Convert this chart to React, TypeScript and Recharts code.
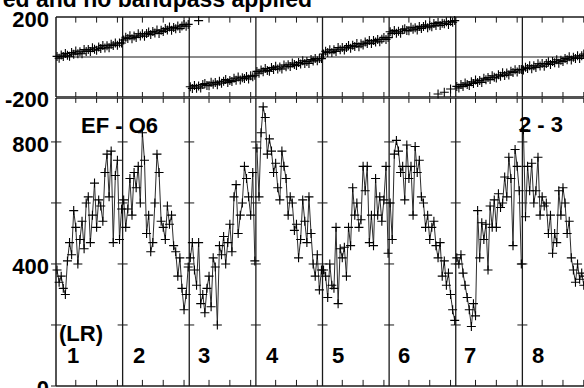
import React from 'react'
import { ComposedChart, Line, XAxis, YAxis, ReferenceLine } from 'recharts'

// 8 IFs, 32 channels each
const NCH = 32
const ifNames = ['1', '2', '3', '4', '5', '6', '7', '8']

// amplitude per channel, one array per IF
const amp1 = [380, 340, 360, 320, 300, 410, 470, 430, 575, 520, 400, 480, 540, 450, 600, 620, 470, 560, 665, 520, 610, 590, 540, 700, 760, 620, 770, 470, 690, 740, 480, 580]
const amp2 = [610, 520, 580, 680, 560, 700, 650, 720, 600, 830, 740, 500, 560, 440, 470, 600, 760, 700, 540, 520, 480, 590, 530, 560, 460, 440, 360, 420, 320, 250, 300, 390]
const amp3 = [420, 470, 380, 330, 470, 270, 300, 240, 320, 360, 260, 420, 390, 200, 460, 430, 490, 400, 470, 530, 440, 620, 660, 500, 560, 600, 720, 680, 620, 560, 700, 410]
const amp4 = [780, 620, 830, 915, 880, 760, 810, 770, 700, 730, 650, 610, 770, 720, 680, 560, 620, 600, 510, 530, 420, 480, 610, 540, 470, 620, 500, 400, 360, 430, 315, 380]
const amp5 = [380, 360, 290, 400, 330, 320, 520, 270, 450, 420, 455, 360, 520, 460, 650, 560, 600, 520, 545, 720, 640, 720, 470, 560, 460, 680, 560, 620, 540, 610, 720, 435]
const amp6 = [600, 480, 760, 805, 770, 700, 720, 610, 790, 680, 720, 560, 785, 700, 740, 620, 600, 520, 560, 480, 520, 540, 460, 420, 470, 360, 410, 330, 370, 300, 250, 215]
const amp7 = [420, 400, 430, 370, 330, 290, 250, 195, 270, 230, 575, 420, 535, 480, 530, 380, 590, 520, 610, 520, 630, 585, 600, 685, 620, 750, 680, 460, 775, 720, 640, 400]
const amp8 = [840, 555, 720, 640, 730, 600, 640, 750, 560, 620, 590, 600, 500, 560, 435, 500, 470, 640, 560, 650, 600, 500, 540, 420, 380, 340, 400, 350, 370, 330, 360, 340]

// phase per channel (degrees), one array per IF
const ph1 = [3, -6, 10, 2, 18, 9, 4, 22, 14, 30, 16, 26, 16, 37, 28, 38, 28, 46, 39, 34, 50, 42, 58, 45, 56, 46, 64, 57, 70, 59, 70, 70]
const ph2 = [85, 99, 93, 106, 91, 105, 98, 116, 105, 116, 104, 117, 125, 112, 127, 120, 135, 118, 134, 127, 142, 135, 150, 134, 148, 141, 155, 142, 155, 163, 154, 163]
const ph3 = [-149, -157, -142, -156, -145, -155, -138, -133, -142, -144, -126, -136, -128, -139, -121, -131, -121, -113, -128, -117, -122, -106, -116, -100, -115, -104, -107, -97, -110, -94, -99, -91]
const ph4 = [-72, -81, -65, -74, -58, -67, -71, -53, -62, -46, -60, -50, -60, -40, -49, -39, -48, -30, -38, -43, -27, -35, -19, -33, -22, -32, -13, -20, -8, -19, -8, -8]
const ph5 = [15, 29, 23, 36, 22, 36, 28, 47, 36, 48, 35, 48, 57, 44, 59, 52, 67, 51, 66, 60, 75, 68, 83, 67, 82, 75, 88, 76, 89, 98, 88, 97]
const ph6 = [126, 118, 133, 119, 129, 119, 136, 141, 132, 131, 149, 139, 146, 135, 153, 143, 153, 161, 146, 156, 151, 167, 157, 173, 158, 169, 166, 176, 163, 179, 174, 182]
const ph7 = [-147, -155, -138, -147, -130, -138, -142, -124, -132, -115, -128, -117, -127, -106, -114, -103, -113, -94, -101, -105, -89, -96, -79, -92, -80, -90, -71, -77, -64, -75, -63, -62]
const ph8 = [-65, -51, -57, -44, -59, -44, -52, -34, -45, -33, -46, -33, -24, -37, -23, -29, -14, -31, -16, -22, -7, -14, 1, -15, -1, -7, 6, -7, 6, 15, 5, 14]

// wrapped phase points (IF index, channel, phase)
const wrapIF = [2, 5, 5, 5]
const wrapCh = [4, 23, 26, 29]
const wrapPh = [182, -185, -176, -160]

const ampIFs = [amp1, amp2, amp3, amp4, amp5, amp6, amp7, amp8]
const phIFs = [ph1, ph2, ph3, ph4, ph5, ph6, ph7, ph8]

const chX = (k: number, c: number) => k * NCH + c + 0.5
const series = (vals: number[], k: number) => vals.map((v, c) => ({ x: chX(k, c), v }))
const wrapped = wrapPh.map((v, i) => ({ x: chX(wrapIF[i], wrapCh[i]), v }))

const dividers = [1, 2, 3, 4, 5, 6, 7].map((k) => k * NCH)
const chTicks = ifNames.flatMap((_, k) => [9.5, 19.5, 29.5].map((t) => k * NCH + t))

const FONT = '"Liberation Sans", Arial, sans-serif'
const W = 600
const frame = '#1a1a1a'

const cross = (p: any) => {
  const { cx, cy, index } = p
  if (cx == null || cy == null) return <g key={`n${index}`} />
  return (
    <path key={`c${index}`} d={`M${cx - 4.5},${cy}h9M${cx},${cy - 4.5}v9`} stroke="#000" strokeWidth={1.1} fill="none" />
  )
}

const yTick = (labels: Record<number, string>) => (p: any) => (
  <text x={p.x} y={p.y} dy={10} textAnchor="end" fontSize={22} fontWeight="bold" fontFamily={FONT} fill="#000">
    {labels[p.payload.value] ?? ''}
  </text>
)

export default function App() {
  return (
    <div style={{ position: 'absolute', left: 0, top: 0, width: 584, height: 388, overflow: 'hidden', background: '#fff' }}>
      {/* amplitude panel */}
      <div style={{ position: 'absolute', left: 0, top: 98 }}>
        <ComposedChart width={W} height={300} margin={{ top: 0, right: 11, bottom: 12, left: 0 }}>
          <XAxis type="number" dataKey="x" domain={[0, 256]} hide allowDuplicatedCategory={false} />
          <YAxis
            type="number"
            domain={[0, 944]}
            ticks={[0, 200, 400, 600, 800]}
            width={56}
            tickSize={5}
            tickMargin={2}
            axisLine={{ stroke: frame, strokeWidth: 1.5 }}
            tickLine={{ stroke: frame }}
            tick={yTick({ 0: '0', 400: '400', 800: '800' })}
          />
          <ReferenceLine y={944} stroke={frame} strokeWidth={1.5} />
          <ReferenceLine y={0} stroke={frame} strokeWidth={1.5} />
          {dividers.map((d) => (
            <ReferenceLine key={`d${d}`} x={d} stroke={frame} strokeWidth={1.3} />
          ))}
          {dividers.flatMap((d) =>
            [200, 400, 600, 800].map((v) => (
              <ReferenceLine key={`dt${d}-${v}`} segment={[{ x: d - 2.4, y: v }, { x: d + 2.4, y: v }]} stroke={frame} />
            ))
          )}
          {[200, 400, 600, 800].map((v) => (
            <ReferenceLine key={`lt${v}`} segment={[{ x: 0, y: v }, { x: 2.6, y: v }]} stroke={frame} />
          ))}
          {chTicks.map((t) => (
            <ReferenceLine key={`bt${t}`} segment={[{ x: t, y: 0 }, { x: t, y: 20 }]} stroke={frame} />
          ))}
          {chTicks.map((t) => (
            <ReferenceLine key={`tt${t}`} segment={[{ x: t, y: 944 }, { x: t, y: 928 }]} stroke={frame} />
          ))}
          {ampIFs.map((a, k) => (
            <Line
              key={`a${k}`}
              data={series(a, k)}
              dataKey="v"
              stroke="#2b2b2b"
              strokeWidth={1}
              dot={cross}
              activeDot={false}
              isAnimationActive={false}
            />
          ))}
        </ComposedChart>
      </div>

      {/* phase panel */}
      <div style={{ position: 'absolute', left: 0, top: 0 }}>
        <ComposedChart width={W} height={120} margin={{ top: 17, right: 11, bottom: 23, left: 0 }}>
          <XAxis type="number" dataKey="x" domain={[0, 256]} hide allowDuplicatedCategory={false} />
          <YAxis
            type="number"
            domain={[-200, 200]}
            ticks={[-200, 200]}
            width={56}
            tickSize={5}
            tickMargin={2}
            axisLine={{ stroke: frame, strokeWidth: 1.5 }}
            tickLine={false}
            tick={yTick({ [-200]: '-200', 200: '200' })}
          />
          <ReferenceLine y={200} stroke={frame} strokeWidth={1.5} />
          <ReferenceLine y={-200} stroke={frame} strokeWidth={1.5} />
          <ReferenceLine y={0} stroke={frame} strokeWidth={1.2} />
          {dividers.map((d) => (
            <ReferenceLine key={`pd${d}`} x={d} stroke={frame} strokeWidth={1.3} />
          ))}
          {chTicks.map((t) => (
            <ReferenceLine key={`pb${t}`} segment={[{ x: t, y: -200 }, { x: t, y: -175 }]} stroke={frame} />
          ))}
          {chTicks.map((t) => (
            <ReferenceLine key={`pt${t}`} segment={[{ x: t, y: 200 }, { x: t, y: 172 }]} stroke={frame} />
          ))}
          {phIFs.map((p, k) => (
            <Line
              key={`p${k}`}
              data={series(p, k)}
              dataKey="v"
              stroke="#2b2b2b"
              strokeWidth={1}
              dot={cross}
              activeDot={false}
              isAnimationActive={false}
            />
          ))}
          <Line data={wrapped} dataKey="v" stroke="none" dot={cross} activeDot={false} isAnimationActive={false} />
        </ComposedChart>
      </div>

      <svg width={584} height={388} style={{ position: 'absolute', left: 0, top: 0, pointerEvents: 'none' }}>
        <g fontFamily={FONT} fontWeight="bold" fill="#000">
          <text x={312} y={7} textAnchor="end" fontSize={23}>ed and no bandpass applied</text>
          <text x={81} y={133} fontSize={22}>EF - O6</text>
          <text x={519} y={132} fontSize={22}>2 - 3</text>
          <text x={59} y={341} fontSize={22}>(LR)</text>
          {ifNames.map((n, k) => (
            <text key={n} x={[67, 133, 198, 266, 332, 398, 464, 532][k]} y={363} fontSize={22}>{n}</text>
          ))}
        </g>
      </svg>
    </div>
  )
}
